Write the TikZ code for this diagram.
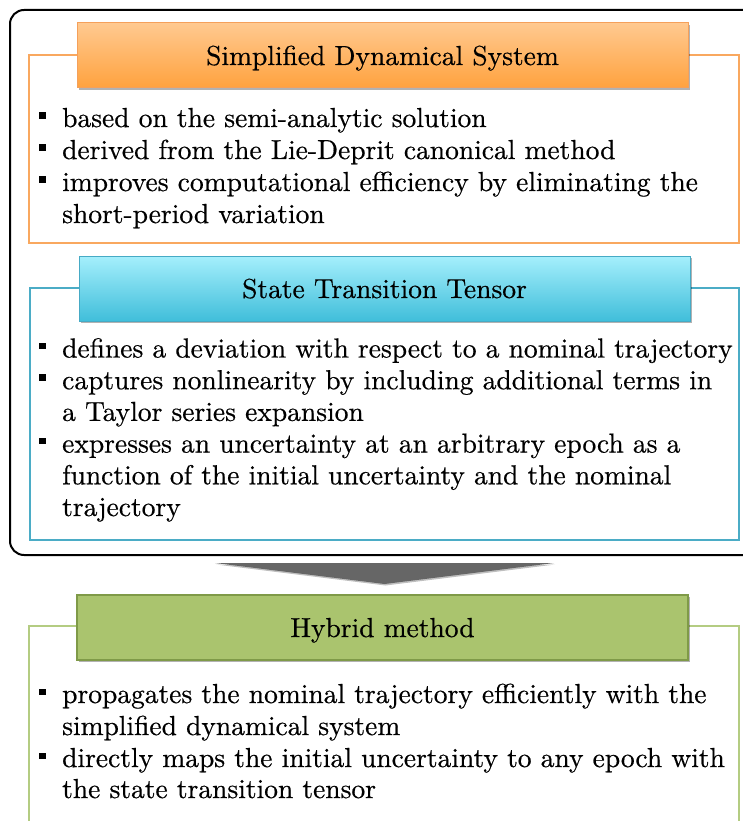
\documentclass[tikz,border=0pt]{standalone}
\usepackage{fontspec}
\setmainfont{lmroman10-regular.otf}[FakeBold=0.5]
\usetikzlibrary{shadows}

\definecolor{orgtop}{HTML}{FFC990}
\definecolor{orgbot}{HTML}{FFA23E}
\definecolor{orgedge}{HTML}{F5A05A}
\definecolor{orgline}{HTML}{F9A85F}
\definecolor{blutop}{HTML}{A5EFFC}
\definecolor{blubot}{HTML}{40BEDA}
\definecolor{bluedge}{HTML}{46AAC5}
\definecolor{bluline}{HTML}{4BACC6}
\definecolor{grnfill}{HTML}{AAC46E}
\definecolor{grnedge}{HTML}{7F9A48}
\definecolor{grnline}{HTML}{B4CC82}
\definecolor{arrowgray}{HTML}{666666}

\tikzset{
  x=1pt, y=-1pt,
  txt/.style={font=\fontsize{27.5}{32}\selectfont},
  hdr/.style={txt, minimum width=611pt, minimum height=65pt, inner sep=0pt,
    text height=19pt, text depth=0pt,
    drop shadow={shadow xshift=1.5pt, shadow yshift=-2pt, opacity=0.3, fill=black}},
  orghdr/.style={hdr, draw=orgedge, line width=1pt, top color=orgtop, bottom color=orgbot},
  bluhdr/.style={hdr, draw=bluedge, line width=1pt, top color=blutop, bottom color=blubot},
  grnhdr/.style={hdr, draw=grnedge, line width=2pt, fill=grnfill},
  panel/.style={line width=1.6pt},
  itemtext/.style={txt, anchor=base west, inner sep=0pt},
  bul/.style={fill=black, minimum size=6.5pt, inner sep=0pt},
}

\begin{document}
\begin{tikzpicture}
  \useasboundingbox (0,0) rectangle (743,821);
  \clip (0,0) rectangle (743,821);

  % frame around the two input blocks
  \draw[line width=2pt, rounded corners=14pt] (10,10) rectangle (770,555);

  % ---- Simplified Dynamical System ----
  \draw[panel, draw=orgline] (29,55) rectangle (739,243);
  \node[orghdr] (sds) at (382.5,55.5) {Simplified Dynamical System};
  \node[bul] (ob1) at (42.5,115.5) {};
  \node[itemtext] (o1) at (62,127) {based on the semi-analytic solution};
  \node[bul] (ob2) at (42.5,147.5) {};
  \node[itemtext] (o2) at (62,159) {derived from the Lie-Deprit canonical method};
  \node[bul] (ob3) at (42.5,179.5) {};
  \node[itemtext] (o3) at (62,191) {improves computational efficiency by eliminating the};
  \node[itemtext] (o4) at (62,223) {short-period variation};

  % ---- State Transition Tensor ----
  \draw[panel, draw=bluline] (30,288) rectangle (739,540);
  \node[bluhdr] (stt) at (384.5,288.5) {State Transition Tensor};
  \node[bul] (bb1) at (42.5,346) {};
  \node[itemtext] (b1) at (62,357.5) {defines a deviation with respect to a nominal trajectory};
  \node[bul] (bb2) at (42.5,377.7) {};
  \node[itemtext] (b2) at (62,389.2) {captures nonlinearity by including additional terms in};
  \node[itemtext] (b3) at (62,420.9) {a Taylor series expansion};
  \node[bul] (bb3) at (42.5,441.1) {};
  \node[itemtext] (b4) at (62,452.6) {expresses an uncertainty at an arbitrary epoch as a};
  \node[itemtext] (b5) at (62,484.3) {function of the initial uncertainty and the nominal};
  \node[itemtext] (b6) at (62,516) {trajectory};

  % ---- downward arrow ----
  \coordinate (al) at (215,563);
  \coordinate (ar) at (554,563);
  \coordinate (at) at (384.5,584);
  \fill[arrowgray, drop shadow={shadow xshift=1pt, shadow yshift=-1.5pt, opacity=0.25, fill=black}]
    (al) -- (ar) -- (at) -- cycle;

  % ---- Hybrid method ----
  \draw[line width=2pt, draw=grnline] (29,626) rectangle (739,840);
  \node[grnhdr] (hyb) at (382.5,627.5) {Hybrid method};
  \node[bul] (gb1) at (42.5,692) {};
  \node[itemtext] (g1) at (62,703) {propagates the nominal trajectory efficiently with the};
  \node[itemtext] (g2) at (62,735) {simplified dynamical system};
  \node[bul] (gb2) at (42.5,756) {};
  \node[itemtext] (g3) at (62,767) {directly maps the initial uncertainty to any epoch with};
  \node[itemtext] (g4) at (62,798) {the state transition tensor};
\end{tikzpicture}
\end{document}
